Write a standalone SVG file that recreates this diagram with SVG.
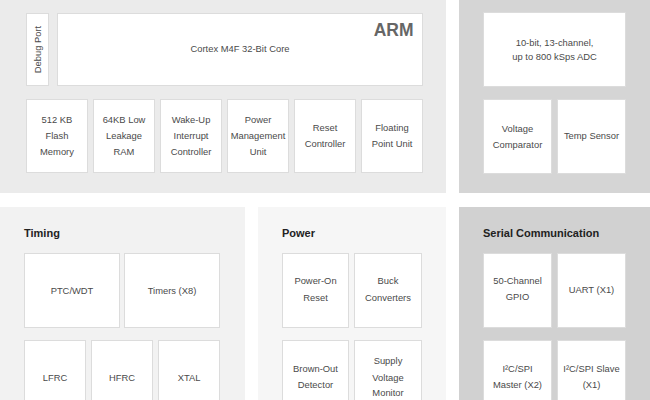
<svg xmlns="http://www.w3.org/2000/svg" width="650" height="400" viewBox="0 0 650 400">
<style>
.box{fill:#ffffff;stroke:#dcdcdc;stroke-width:1}
.t{font-family:"Liberation Sans",Arial,sans-serif;font-size:9.4px;fill:#4a4a4a;text-anchor:middle}
.h{font-family:"Liberation Sans",Arial,sans-serif;font-size:11px;font-weight:bold;fill:#222222}
.arm{font-family:"Liberation Sans",Arial,sans-serif;font-size:17.5px;font-weight:bold;fill:#666666;text-anchor:end}
</style>
<g id="panels">
<rect x="0" y="0" width="446" height="193" fill="#ebebeb"/>
<rect x="459" y="0" width="191" height="193" fill="#d5d5d5"/>
<rect x="0" y="207" width="245" height="193" fill="#f2f2f2"/>
<rect x="258" y="207" width="188" height="193" fill="#f6f6f6"/>
<rect x="459" y="207" width="191" height="193" fill="#d1d1d1"/>
</g>
<g id="debug-port"><rect class="box" x="26.5" y="13.5" width="22" height="72"/><text class="t" transform="translate(40.5,49.5) rotate(-90)">Debug Port</text></g>
<g id="cortex"><rect class="box" x="57.5" y="13.5" width="365" height="72"/><text class="t" x="240" y="51.5">Cortex M4F 32-Bit Core</text><text class="arm" x="413.5" y="35.5">ARM</text></g>
<g id="flash"><rect class="box" x="26.5" y="99.5" width="61" height="73"/><text class="t" x="57" y="122.5">512 KB</text><text class="t" x="57" y="139">Flash</text><text class="t" x="57" y="155.2">Memory</text></g>
<g id="ram"><rect class="box" x="93.5" y="99.5" width="61" height="73"/><text class="t" x="124" y="122.5">64KB Low</text><text class="t" x="124" y="139">Leakage</text><text class="t" x="124" y="155.2">RAM</text></g>
<g id="wic"><rect class="box" x="160.5" y="99.5" width="61" height="73"/><text class="t" x="191" y="122.5">Wake-Up</text><text class="t" x="191" y="139">Interrupt</text><text class="t" x="191" y="155.2">Controller</text></g>
<g id="pmu"><rect class="box" x="227.5" y="99.5" width="61" height="73"/><text class="t" x="258" y="122.5">Power</text><text class="t" x="258" y="139">Management</text><text class="t" x="258" y="155.2">Unit</text></g>
<g id="reset"><rect class="box" x="294.5" y="99.5" width="61" height="73"/><text class="t" x="325" y="131">Reset</text><text class="t" x="325" y="147.3">Controller</text></g>
<g id="fpu"><rect class="box" x="361.5" y="99.5" width="61" height="73"/><text class="t" x="392" y="131">Floating</text><text class="t" x="392" y="147.3">Point Unit</text></g>
<g id="adc"><rect class="box" x="483.5" y="12.5" width="142" height="74"/><text class="t" x="554.5" y="46">10-bit, 13-channel,</text><text class="t" x="554.5" y="60">up to 800 kSps ADC</text></g>
<g id="comparator"><rect class="box" x="483.5" y="99.5" width="68" height="74"/><text class="t" x="517.5" y="131.6">Voltage</text><text class="t" x="517.5" y="148.3">Comparator</text></g>
<g id="temp"><rect class="box" x="557.5" y="99.5" width="68" height="74"/><text class="t" x="591.5" y="139.3">Temp Sensor</text></g>
<g id="timing"><text class="h" x="24" y="236.7">Timing</text></g>
<g id="ptc"><rect class="box" x="24.5" y="253.5" width="95" height="74"/><text class="t" x="72" y="293.5">PTC/WDT</text></g>
<g id="timers"><rect class="box" x="124.5" y="253.5" width="95" height="74"/><text class="t" x="172" y="293.5">Timers (X8)</text></g>
<g id="lfrc"><rect class="box" x="24.5" y="340.5" width="61" height="74"/><text class="t" x="55" y="380.6">LFRC</text></g>
<g id="hfrc"><rect class="box" x="91.5" y="340.5" width="61" height="74"/><text class="t" x="122" y="380.6">HFRC</text></g>
<g id="xtal"><rect class="box" x="158.5" y="340.5" width="61" height="74"/><text class="t" x="189" y="380.6">XTAL</text></g>
<g id="power"><text class="h" x="282" y="236.7">Power</text></g>
<g id="por"><rect class="box" x="282.5" y="253.5" width="66" height="74"/><text class="t" x="315.5" y="284.3">Power-On</text><text class="t" x="315.5" y="300.6">Reset</text></g>
<g id="buck"><rect class="box" x="354.5" y="253.5" width="67" height="74"/><text class="t" x="388" y="284.3">Buck</text><text class="t" x="388" y="300.6">Converters</text></g>
<g id="bod"><rect class="box" x="282.5" y="340.5" width="66" height="74"/><text class="t" x="315.5" y="371.6">Brown-Out</text><text class="t" x="315.5" y="388.3">Detector</text></g>
<g id="svm"><rect class="box" x="354.5" y="340.5" width="67" height="74"/><text class="t" x="388" y="364">Supply</text><text class="t" x="388" y="380.6">Voltage</text><text class="t" x="388" y="396">Monitor</text></g>
<g id="serial"><text class="h" x="483" y="236.7">Serial Communication</text></g>
<g id="gpio"><rect class="box" x="483.5" y="253.5" width="68" height="74"/><text class="t" x="517.5" y="284.3">50-Channel</text><text class="t" x="517.5" y="300.3">GPIO</text></g>
<g id="uart"><rect class="box" x="557.5" y="253.5" width="68" height="74"/><text class="t" x="591.5" y="292.6">UART (X1)</text></g>
<g id="i2c-master"><rect class="box" x="483.5" y="340.5" width="68" height="74"/><text class="t" x="517.5" y="372.3">I²C/SPI</text><text class="t" x="517.5" y="388.3">Master (X2)</text></g>
<g id="i2c-slave"><rect class="box" x="557.5" y="340.5" width="68" height="74"/><text class="t" x="591.5" y="372.3">I²C/SPI Slave</text><text class="t" x="591.5" y="388.3">(X1)</text></g>
<g id="connectors"/>
</svg>
